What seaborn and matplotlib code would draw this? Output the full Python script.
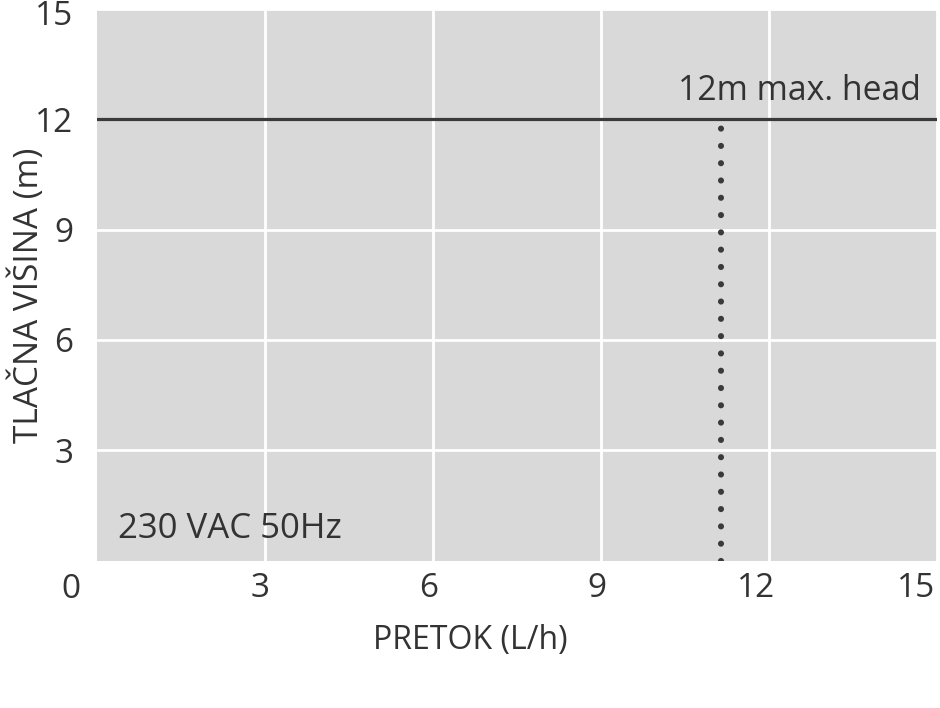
import matplotlib
matplotlib.use("Agg")
import matplotlib.pyplot as plt
import matplotlib.transforms as mtransforms
import pandas as pd
import seaborn as sns

# chart values
x_ticks = [3, 6, 9, 12, 15]
y_ticks = [3, 6, 9, 12, 15]
max_head_x = [0, 15]
max_head_y = [12, 12]
max_flow_x = [11.15, 11.15]
max_flow_y = [0, 12]
head_label = "12m max. head"
supply_label = "230 VAC 50Hz"

TEXT = "#333333"
LINE = "#3a3a3a"

sns.set_theme(style="darkgrid", rc={
    "axes.facecolor": "#d9d9d9",
    "grid.color": "white",
    "grid.linewidth": 2.0,
    "axes.edgecolor": "#d9d9d9",
})
plt.rcParams["font.family"] = ["Open Sans", "DejaVu Sans"]

fig = plt.figure(figsize=(9.4, 7.08), dpi=100)
ax = fig.add_axes([0.1032, 0.2083, 0.8936, 0.779])

head_df = pd.DataFrame({"x": max_head_x, "y": max_head_y})
flow_df = pd.DataFrame({"x": max_flow_x, "y": max_flow_y})

sns.lineplot(data=head_df, x="x", y="y", ax=ax, color=LINE, linewidth=2.3,
             estimator=None, sort=False)
# dotted max-flow marker: round caps on near-zero dashes
sns.lineplot(data=flow_df, x="x", y="y", ax=ax, color=LINE, linewidth=4.4,
             estimator=None, sort=False,
             linestyle=(0, (0.01, 2.82)), dash_capstyle="round")

ax.set_xlim(0, 15)
ax.set_ylim(0, 15)
for s in ax.spines.values():
    s.set_visible(False)

ax.set_xticks(x_ticks)
ax.set_xticklabels([str(t) for t in x_ticks])
ax.set_yticks(y_ticks)
ax.set_yticklabels([str(t) for t in y_ticks])
ax.tick_params(axis="both", length=0, labelsize=24, colors=TEXT)
ax.tick_params(axis="x", pad=8)
ax.tick_params(axis="y", pad=17)

x_shift_px = [5, 5, 5, 6, -2]
for lab, dx in zip(ax.get_xticklabels(), x_shift_px):
    lab.set_horizontalalignment("right")
    lab.set_transform(lab.get_transform() +
                      mtransforms.ScaledTranslation(dx / 100, 0, fig.dpi_scale_trans))
top_lab = ax.get_yticklabels()[-1]
top_lab.set_transform(top_lab.get_transform() +
                      mtransforms.ScaledTranslation(0, -4 / 100, fig.dpi_scale_trans))

ax.annotate("0", xy=(0, 0), xycoords="axes fraction", xytext=(-17, -12),
            textcoords="offset pixels", ha="right", va="top",
            fontsize=24, color=TEXT)

ax.set_xlabel("PRETOK (L/h)", fontsize=23, color=TEXT)
ax.xaxis.set_label_coords(0.444, -0.145)
ax.xaxis.label.set_va("center")
ax.set_ylabel("TLAČNA VIŠINA (m)", fontsize=24, color=TEXT)
ax.yaxis.set_label_coords(-0.082, 0.481)
ax.yaxis.label.set_va("center")

ax.text(14.71, 12.52, head_label, ha="right", va="baseline",
        fontsize=24.3, color=TEXT)
ax.text(0.375, 0.61, supply_label, ha="left", va="baseline",
        fontsize=25, color=TEXT)

fig.savefig("out.png", dpi=100)
